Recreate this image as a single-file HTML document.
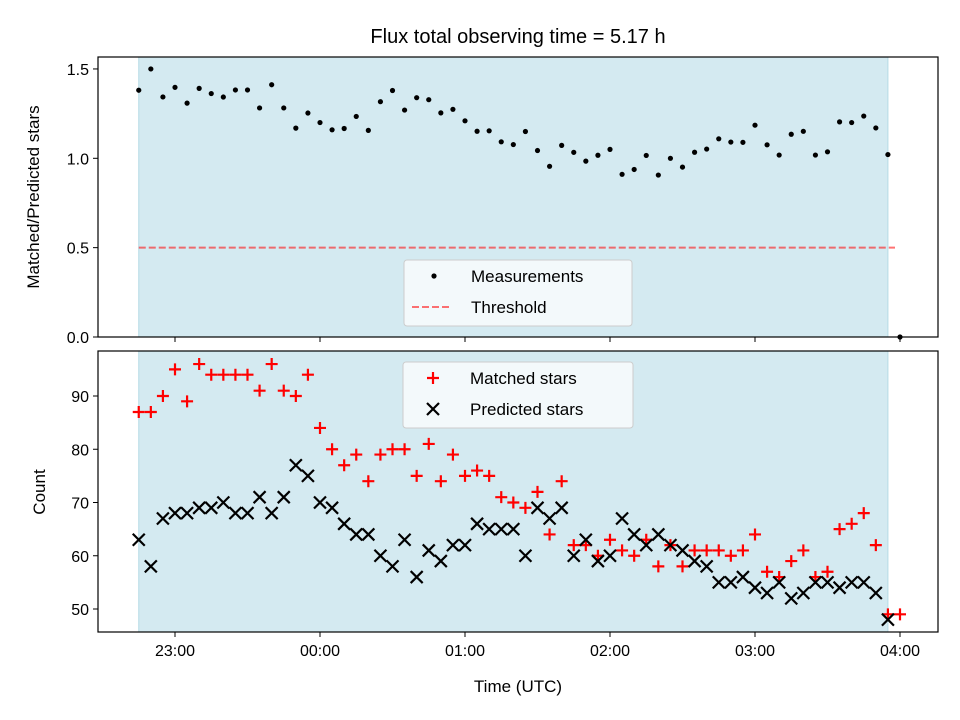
<!DOCTYPE html>
<html><head><meta charset="utf-8"><style>
html,body{margin:0;padding:0;background:#fff;}
svg{display:block;font-family:"Liberation Sans","DejaVu Sans",sans-serif;}
</style></head><body>
<svg id="chart" width="960" height="720" viewBox="0 0 960 720" xmlns="http://www.w3.org/2000/svg">
<text x="518" y="43" font-size="20" text-anchor="middle">Flux total observing time = 5.17 h</text>
<g id="top"></g>
<g id="bot"></g>
<text x="518" y="692" font-size="17" text-anchor="middle">Time (UTC)</text>
<text transform="translate(39,197) rotate(-90)" font-size="17" text-anchor="middle">Matched/Predicted stars</text>
<text transform="translate(45,492) rotate(-90)" font-size="17" text-anchor="middle">Count</text>
</svg>
<script>
// minutes after 22:45 UTC, every 5 minutes
const startMinutes = 22*60+45;
const matched = [87,87,90,95,89,96,94,94,94,94,91,96,91,90,94,84,80,77,79,74,
 79,80,80,75,81,74,79,75,76,75,71,70,69,72,64,74,62,62,60,63,61,60,
 63,58,62,58,61,61,61,60,61,64,57,56,59,61,56,57,65,66,68,62,49,49];
const predicted = [63,58,67,68,68,69,69,70,68,68,71,68,71,77,75,70,69,66,64,64,
 60,58,63,56,61,59,62,62,66,65,65,65,60,69,67,69,60,63,59,60,67,64,
 62,64,62,61,59,58,55,55,56,54,53,55,52,53,55,55,54,55,55,53,48];
const threshold = 0.5;
const xTickLabels = ["23:00","00:00","01:00","02:00","03:00","04:00"];
const xTickHours = [23,24,25,26,27,28];
const topYTicks = [0.0,0.5,1.0,1.5];
const botYTicks = [50,60,70,80,90];

const NS="http://www.w3.org/2000/svg";
function mk(tag,attrs,parent){const e=document.createElementNS(NS,tag);for(const k in attrs)e.setAttribute(k,attrs[k]);parent.appendChild(e);return e;}
const L=98,R=938;
const xOf = h => 175 + (h-23)*145;
const tHours = i => (startMinutes + 5*i)/60;
const yTop = v => 337 - v*178.7;
const yBot = v => 609 - (v-50)*5.325;
const topG=document.getElementById('top'), botG=document.getElementById('bot');

const ratio = matched.map((m,i)=> (predicted[i]>0 ? m/predicted[i] : 0));
const spanX0 = xOf(tHours(0)), spanX1 = xOf(tHours(predicted.length-1));

function panel(g,y0,y1,ticks,yf,fmt,labels){
  const s=mk('rect',{x:spanX0,y:y0,width:spanX1-spanX0,height:y1-y0,fill:'#d4eaf1',stroke:'#b5dbe6','stroke-width':1},g);
  
  
  ticks.forEach(t=>{
    const y=yf(t);
    const tk=mk('line',{x1:L-5,x2:L,y1:y,y2:y,stroke:'#000','stroke-width':1},g);
    
    
    const tx=mk('text',{x:L-9,y:y+6,'font-size':16,'text-anchor':'end'},g);
    
    
    tx.textContent=fmt(t);
  });
  xTickHours.forEach((h,i)=>{
    const x=xOf(h);
    const tk=mk('line',{x1:x,x2:x,y1:y1,y2:y1+5,stroke:'#000','stroke-width':1},g);
    
    
    if(labels){
      const tx=mk('text',{x:x,y:y1+24,'font-size':16,'text-anchor':'middle'},g);
      
      
      tx.textContent=xTickLabels[i];
    }
  });
}
panel(topG,57,337,topYTicks,yTop,v=>v.toFixed(1),false);
panel(botG,351,632,botYTicks,yBot,v=>String(v),true);

const th=mk('line',{x1:spanX0,x2:xOf(tHours(matched.length-1))-5,y1:yTop(threshold),y2:yTop(threshold),stroke:'#ff0000','stroke-opacity':0.55,'stroke-width':2,'stroke-dasharray':'7,3'},topG);


ratio.forEach((r,i)=>{
  const c=mk('circle',{cx:xOf(tHours(i)),cy:yTop(r),r:2.6,fill:'#000'},topG);
  
  
});
matched.forEach((m,i)=>{
  const x=xOf(tHours(i)),y=yBot(m);
  const p=mk('path',{d:`M${x-6} ${y}H${x+6}M${x} ${y-6}V${y+6}`,stroke:'#ff0000','stroke-width':2.2,fill:'none'},botG);
  
  
});
predicted.forEach((v,i)=>{
  const x=xOf(tHours(i)),y=yBot(v);
  const p=mk('path',{d:`M${x-6} ${y-6}L${x+6} ${y+6}M${x-6} ${y+6}L${x+6} ${y-6}`,stroke:'#000','stroke-width':2.2,fill:'none'},botG);
  
  
});
[[topG,57,337],[botG,351,632]].forEach(([g,a,b])=>{
  const f=mk('rect',{x:L,y:a,width:R-L,height:b-a,fill:'none',stroke:'#000','stroke-width':1.2},g);
  
  
});
function legend(g,x,y,w,h,items){
  const lg=mk('g',{},g);
  
  
  mk('rect',{x:x,y:y,width:w,height:h,rx:3,fill:'#f8fbfd','fill-opacity':0.85,stroke:'#ccc'},lg);
  items.forEach((it,k)=>{
    const cy=y+16+k*31;
    const e=mk('g',{},lg);
    
    
    it.draw(e,x+30,cy);
    const t=mk('text',{x:x+67,y:cy+6,'font-size':17},e);
    t.textContent=it.label;
  });
}
legend(topG,404,260,228,66,[
  {label:'Measurements',draw:(e,x,y)=>mk('circle',{cx:x,cy:y,r:2.6,fill:'#000'},e)},
  {label:'Threshold',draw:(e,x,y)=>mk('line',{x1:x-22,x2:x+18,y1:y,y2:y,stroke:'#ff0000','stroke-opacity':0.55,'stroke-width':2,'stroke-dasharray':'7,3'},e)}
]);
legend(botG,403,362,230,66,[
  {label:'Matched stars',draw:(e,x,y)=>mk('path',{d:`M${x-6} ${y}H${x+6}M${x} ${y-6}V${y+6}`,stroke:'#ff0000','stroke-width':2.2},e)},
  {label:'Predicted stars',draw:(e,x,y)=>mk('path',{d:`M${x-6} ${y-6}L${x+6} ${y+6}M${x-6} ${y+6}L${x+6} ${y-6}`,stroke:'#000','stroke-width':2.2},e)}
]);
</script>
</body></html>
